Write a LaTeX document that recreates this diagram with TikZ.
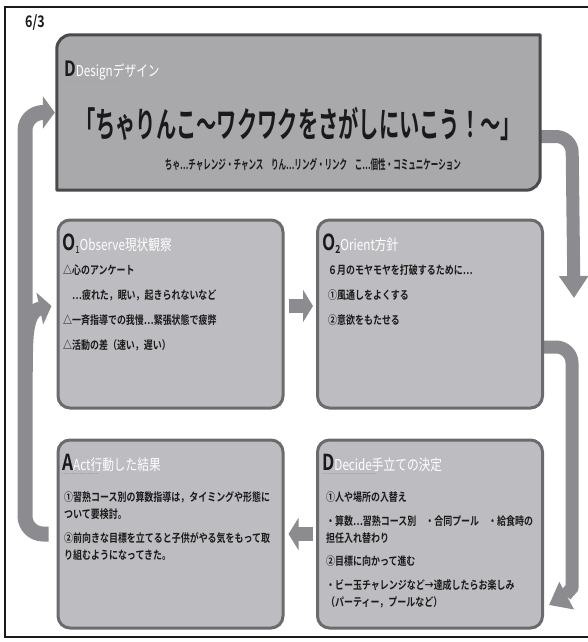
\documentclass[tikz,border=0pt]{standalone}
\usepackage{fontspec}
\usepackage{graphicx}
\usetikzlibrary{arrows.meta,calc}
\newfontfamily\jp[FakeStretch=0.78,BoldFont={Noto Sans CJK JP Bold}]{Noto Sans CJK JP}

\definecolor{boxfill}{HTML}{BDBDC1}
\definecolor{boxedge}{HTML}{6B6B6E}
\definecolor{topfill}{HTML}{A9A9AC}
\definecolor{topedge}{HTML}{4A4A4C}
\definecolor{arrowgray}{HTML}{8C8C90}
\definecolor{ink}{HTML}{1A1A1A}

\tikzset{
  panel/.style={draw=boxedge, fill=boxfill, line width=3pt, rounded corners=12pt,
    minimum width=225pt, minimum height=188pt, inner sep=0pt},
  flow/.style={draw=arrowgray, line width=14pt, line cap=butt, line join=round},
  bigtip/.style={-{Triangle[length=12pt,width=32pt]}},
  midtip/.style={-{Triangle[length=10pt,width=32pt]}},
  downtip/.style={-{Triangle[length=22pt,width=28pt]}},
  body/.style={font=\jp\bfseries\fontsize{11.5}{17}\selectfont, text=ink, align=left,
    inner sep=0pt, anchor=north west},
  heading/.style={font=\jp, inner sep=0pt, anchor=base west},
  squiggle/.style={draw=gray!70, line width=0.6pt, densely dotted},
}

\begin{document}
\begin{tikzpicture}[x=1pt,y=1pt]
\useasboundingbox (0,0) rectangle (588,-642);

% outer frame (its right side runs past the page edge)
\draw[ink, line width=1.1pt] (5,-7) rectangle (592,-637);

% date
\node[font=\jp\bfseries\fontsize{16}{16}\selectfont, text=ink, inner sep=0pt] (date) at (35,-23) {6/3};

% invisible holders for the five stages
\node[minimum width=483pt, minimum height=155pt, inner sep=0pt] (design) at (298.5,-112.5) {};
\node[panel, draw=none, fill=none] (observe) at (170.5,-314) {};
\node[panel, draw=none, fill=none] (orient)  at (430,-314) {};
\node[panel, draw=none, fill=none] (act)     at (170.5,-534) {};
\node[panel, draw=none, fill=none] (decide)  at (430,-534) {};

% helper points for the cycle arrows
\coordinate (rail)    at (25,0);
\coordinate (rrail)   at (572,0);
\coordinate (actOut)  at ([xshift=-8pt]act.west);
\coordinate (desIn)   at ([xshift=-2pt]design.west);
\coordinate (obsIn)   at ([xshift=-5pt,yshift=8pt]observe.west);
\coordinate (brStart) at (26,-372);
\coordinate (desOut)  at ([yshift=-24pt]design.east);
\coordinate (rtip)    at ([xshift=30pt,yshift=16pt]orient.east);
\coordinate (oriOut)  at ([yshift=-33pt]orient.east);
\coordinate (rbend)   at (572,-572);
\coordinate (decIn)   at ([xshift=5pt,yshift=-71pt]decide.east);

% cycle arrows (drawn first so the boxes cover their roots)
\draw[flow, bigtip, line width=15pt, rounded corners=18pt]
  (actOut) -- (actOut -| rail) |- (desIn);
\draw[flow, bigtip] (brStart) to[out=90, in=192] (obsIn);
\draw[flow, downtip, line width=13pt, rounded corners=16pt]
  (desOut) -- (desOut -| rrail) -- (rtip);
\draw[flow, -{Triangle[length=20pt,width=30pt]}, line width=13pt]
  (oriOut) [rounded corners=16pt] -- (oriOut -| rrail) -- (rbend) [sharp corners]
  to[out=-90, in=28] (decIn);
\draw[flow, midtip] ([xshift=4pt,yshift=8pt]observe.east) -- ([xshift=-3pt,yshift=8pt]orient.west);
\draw[flow, midtip] ([xshift=-3pt]decide.west) -- ([xshift=4pt]act.east);

% design box: rounded top-left and bottom-right corners
\draw[draw=topedge, fill=topfill, line width=3pt, line join=round]
  (design.south west) -- ([yshift=-14pt]design.north west)
  arc[start angle=180, end angle=90, radius=14pt] -- (design.north east)
  -- ([yshift=14pt]design.south east)
  arc[start angle=0, end angle=-90, radius=14pt] -- cycle;

% four lower boxes
\node[panel] (observeBox) at (observe) {};
\node[panel] (orientBox)  at (orient) {};
\node[panel] (actBox)     at (act) {};
\node[panel] (decideBox)  at (decide) {};

% design texts
\node[heading] (desTitle) at (64,-77)
  {{\color{ink}\fontsize{21}{21}\selectfont\bfseries D}{\color{white}\fontsize{15}{15}\selectfont Designデザイン}};
\draw[squiggle] ([yshift=-3pt]desTitle.base west) -- ++(62,0);
\node[font=\jp, text=ink, inner sep=0pt] (slogan) at (298,-124)
  {\resizebox{446pt}{\height}{\fontsize{35}{35}\selectfont\bfseries 「ちゃりんこ～ワクワクをさがしにいこう！～」}};
\node[font=\jp, text=ink, inner sep=0pt] (sloganNote) at (313,-165)
  {\resizebox{296pt}{\height}{\fontsize{13}{13}\selectfont\bfseries ちゃ⋯チャレンジ・チャンス　りん⋯リング・リンク　こ⋯個性・コミュニケーション}};

% observe
\node[heading] (obsTitle) at (62,-250)
  {{\color{ink}\fontsize{22}{22}\selectfont\bfseries O}{\color{ink}\raisebox{-3pt}{\fontsize{10}{10}\selectfont 1}}{\color{white}\fontsize{15}{15}\selectfont Observe現状観察}};
\node[body] (obsText) at (63,-265)
  {△心のアンケート\\[8pt]
   　⋯疲れた，眠い，起きられないなど\\[8pt]
   △一斉指導での我慢⋯緊張状態で疲弊\\[8pt]
   △活動の差（速い，遅い）};

% orient
\node[heading] (oriTitle) at (322,-250)
  {{\color{ink}\fontsize{22}{22}\selectfont\bfseries O}{\color{ink}\raisebox{-3pt}{\fontsize{11}{11}\selectfont\bfseries 2}}{\color{white}\fontsize{15}{15}\selectfont Orient方針}};
\node[body] (oriText) at (328,-265)
  {６月のモヤモヤを打破するために⋯\\[8pt]
   ①風通しをよくする\\[8pt]
   ②意欲をもたせる};

% act
\node[heading] (actTitle) at (62,-470)
  {{\color{ink}\fontsize{22}{22}\selectfont\bfseries A}{\color{white}\fontsize{15}{15}\selectfont Act行動した結果}};
\draw[squiggle] ([yshift=-3pt]actTitle.base west) -- ++(36,0);
\node[body] (actText) at (64,-491)
  {①習熟コース別の算数指導は，タイミングや形態に\\
   ついて要検討。\\[7pt]
   ②前向きな目標を立てると子供がやる気をもって取\\
   り組むようになってきた。};

% decide
\node[heading] (decTitle) at (322,-470)
  {{\color{ink}\fontsize{22}{22}\selectfont\bfseries D}{\color{white}\fontsize{15}{15}\selectfont Decide手立ての決定}};
\draw[squiggle] ([yshift=-3pt]decTitle.base west) -- ++(54,0);
\node[body] (decText) at (326,-491)
  {①人や場所の入替え\\[7pt]
   ・算数⋯習熟コース別　・合同プール　・給食時の\\
   担任入れ替わり\\[6pt]
   ②目標に向かって進む\\[7pt]
   ・ビー玉チャレンジなど→達成したらお楽しみ\\
   （パーティー，プールなど）};
\end{tikzpicture}
\end{document}
